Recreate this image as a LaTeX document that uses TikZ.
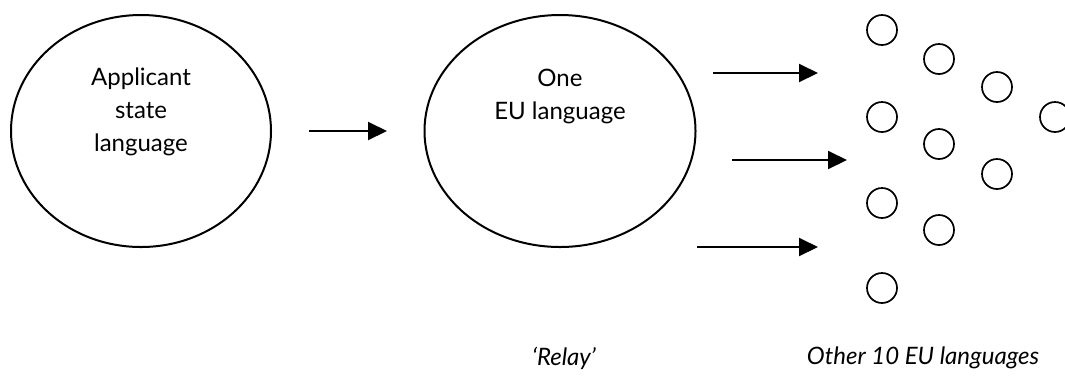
\documentclass[tikz,border=0pt]{standalone}
\usepackage{fontspec}
\setmainfont{Lato}
\usetikzlibrary{shapes.geometric,arrows.meta}
\tikzset{
  bigell/.style={draw, line width=2pt, ellipse, inner sep=0pt},
  lang/.style={draw, line width=1.7pt, circle, minimum size=30pt, inner sep=0pt},
  txt/.style={font=\fontsize{24pt}{33pt}\selectfont, align=center, inner sep=0pt},
  captext/.style={font=\fontsize{24pt}{28pt}\selectfont\itshape, inner sep=0pt},
  arr/.style={line width=2pt, -{Triangle[length=19pt,width=18pt]}}
}
\begin{document}
\begin{tikzpicture}[x=1pt,y=-1pt]
\useasboundingbox (0,0) rectangle (1065,376);
% big ellipses
\node[bigell, minimum width=260pt, minimum height=232pt] (app) at (141,131) {};
\node[txt] (apptext) at (141,112) {Applicant\\state\\language};
\node[bigell, minimum width=271pt, minimum height=232pt] (one) at (560,131) {};
\node[txt] (onetext) at (560,96) {One\\EU language};
% arrows
\coordinate (a1s) at (309,131); \coordinate (a1e) at (387,131);
\coordinate (a2s) at (713,73);  \coordinate (a2e) at (818,73);
\coordinate (a3s) at (732,160); \coordinate (a3e) at (847,160);
\coordinate (a4s) at (697,247); \coordinate (a4e) at (818,247);
\draw[arr] (a1s) -- (a1e);
\draw[arr] (a2s) -- (a2e);
\draw[arr] (a3s) -- (a3e);
\draw[arr] (a4s) -- (a4e);
% small circles
\node[lang] (c1) at (882,30) {};
\node[lang] (c2) at (882,117) {};
\node[lang] (c3) at (882,203) {};
\node[lang] (c4) at (882,288) {};
\node[lang] (c5) at (939,59) {};
\node[lang] (c6) at (939,144) {};
\node[lang] (c7) at (939,230) {};
\node[lang] (c8) at (997,87) {};
\node[lang] (c9) at (997,174) {};
\node[lang] (c10) at (1055,117) {};
% captions
\node[captext] (relay) at (564,358) {‘Relay’};
\node[captext] (other) at (923,358) {Other 10 EU languages};
\end{tikzpicture}
\end{document}
